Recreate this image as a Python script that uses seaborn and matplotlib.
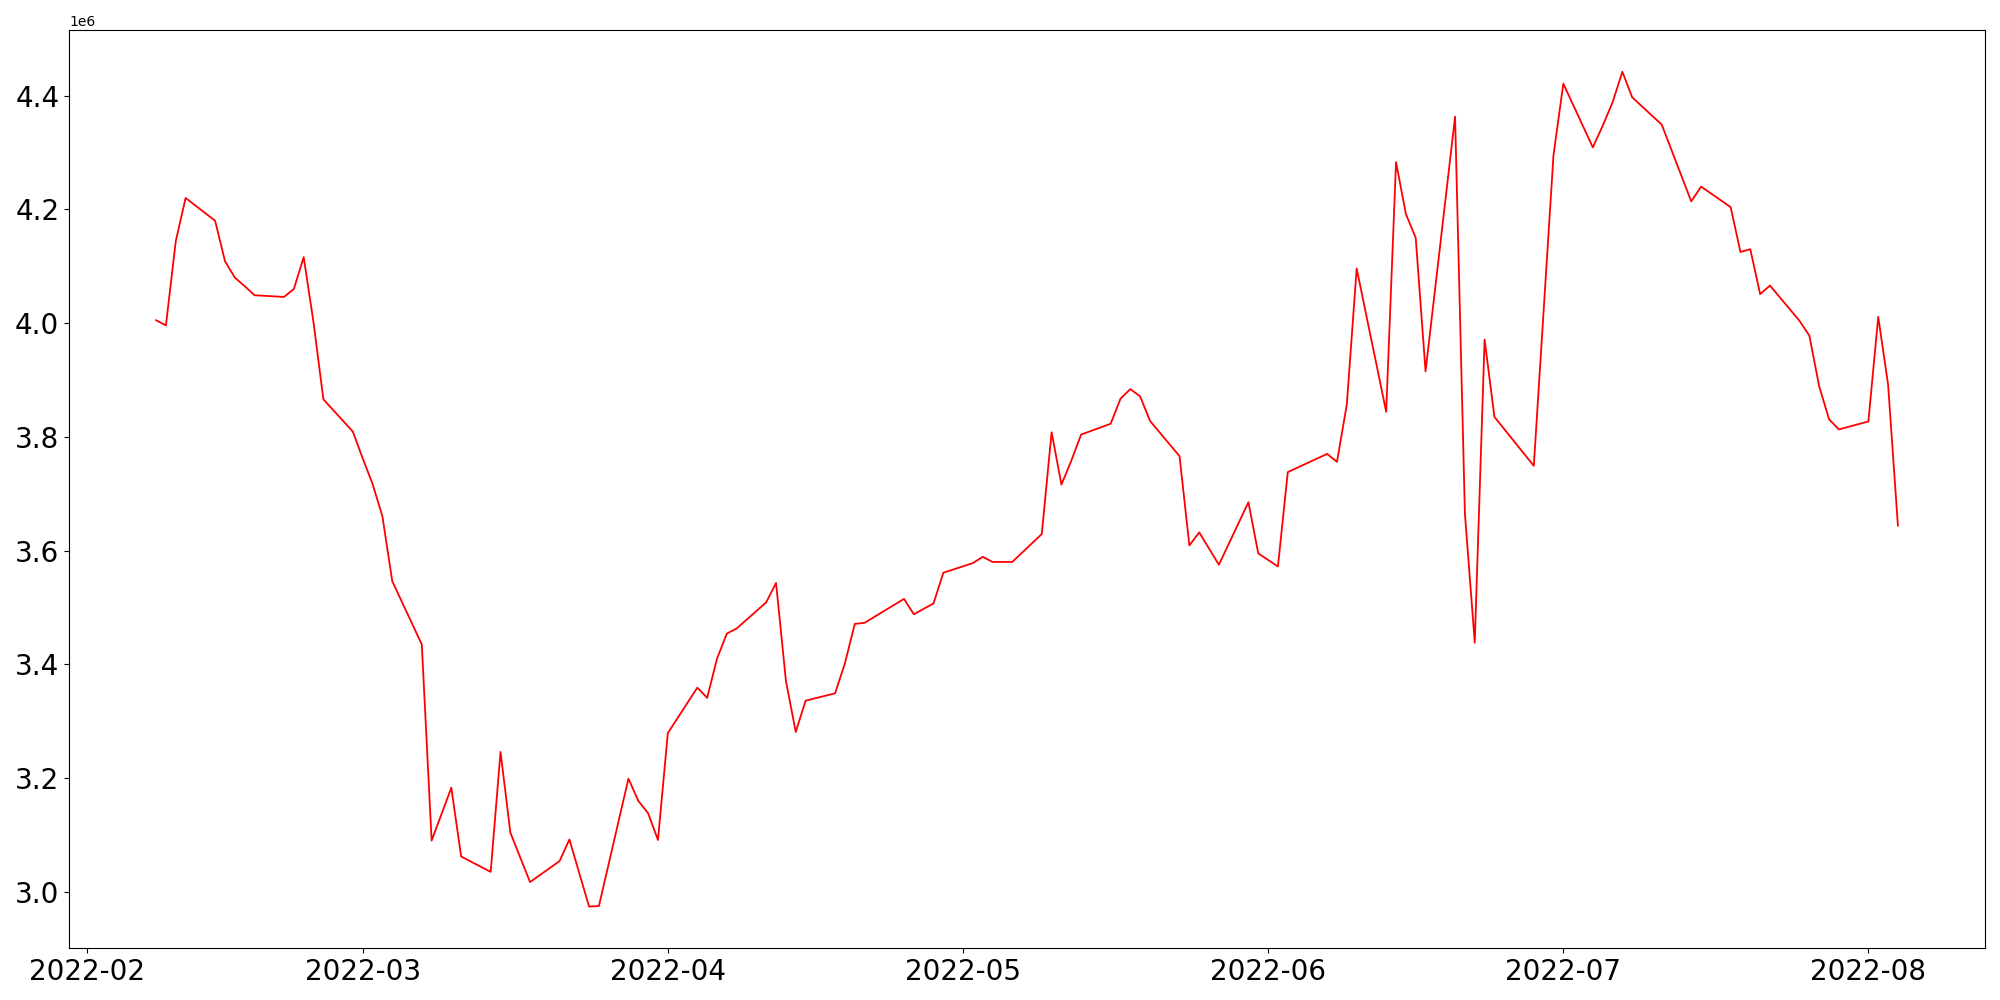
import matplotlib
matplotlib.use("Agg")
import matplotlib.pyplot as plt
import seaborn as sns
import pandas as pd

dates = [
    "2022-02-08", "2022-02-09", "2022-02-10", "2022-02-11", "2022-02-14", "2022-02-15",
    "2022-02-16", "2022-02-17", "2022-02-18", "2022-02-21", "2022-02-22", "2022-02-23",
    "2022-02-24", "2022-02-25", "2022-02-28", "2022-03-01", "2022-03-02", "2022-03-03",
    "2022-03-04", "2022-03-07", "2022-03-08", "2022-03-10", "2022-03-11", "2022-03-14",
    "2022-03-15", "2022-03-16", "2022-03-18", "2022-03-21", "2022-03-22", "2022-03-24",
    "2022-03-25", "2022-03-28", "2022-03-29", "2022-03-30", "2022-03-31", "2022-04-01",
    "2022-04-04", "2022-04-05", "2022-04-06", "2022-04-07", "2022-04-08", "2022-04-11",
    "2022-04-12", "2022-04-13", "2022-04-14", "2022-04-15", "2022-04-18", "2022-04-19",
    "2022-04-20", "2022-04-21", "2022-04-25", "2022-04-26", "2022-04-28", "2022-04-29",
    "2022-05-02", "2022-05-03", "2022-05-04", "2022-05-06", "2022-05-09", "2022-05-10",
    "2022-05-11", "2022-05-12", "2022-05-13", "2022-05-16", "2022-05-17", "2022-05-18",
    "2022-05-19", "2022-05-20", "2022-05-23", "2022-05-24", "2022-05-25", "2022-05-27",
    "2022-05-30", "2022-05-31", "2022-06-02", "2022-06-03", "2022-06-07", "2022-06-08",
    "2022-06-09", "2022-06-10", "2022-06-13", "2022-06-14", "2022-06-15", "2022-06-16",
    "2022-06-17", "2022-06-20", "2022-06-21", "2022-06-22", "2022-06-23", "2022-06-24",
    "2022-06-28", "2022-06-30", "2022-07-01", "2022-07-04", "2022-07-05", "2022-07-06",
    "2022-07-07", "2022-07-08", "2022-07-11", "2022-07-14", "2022-07-15", "2022-07-18",
    "2022-07-19", "2022-07-20", "2022-07-21", "2022-07-22", "2022-07-25", "2022-07-26",
    "2022-07-27", "2022-07-28", "2022-07-29", "2022-08-01", "2022-08-02", "2022-08-03",
    "2022-08-04",
]

values_millions = [
    4.005, 3.996, 4.144, 4.220, 4.180, 4.109,
    4.080, 4.065, 4.049, 4.046, 4.060, 4.116,
    4.001, 3.866, 3.809, 3.762, 3.717, 3.660,
    3.546, 3.435, 3.090, 3.183, 3.062, 3.035,
    3.246, 3.104, 3.017, 3.054, 3.092, 2.974,
    2.975, 3.199, 3.160, 3.138, 3.091, 3.279,
    3.359, 3.341, 3.410, 3.454, 3.463, 3.509,
    3.543, 3.371, 3.281, 3.336, 3.349, 3.402,
    3.471, 3.473, 3.515, 3.488, 3.507, 3.561,
    3.578, 3.589, 3.580, 3.580, 3.629, 3.808,
    3.716, 3.758, 3.804, 3.823, 3.867, 3.884,
    3.871, 3.828, 3.766, 3.609, 3.632, 3.575,
    3.685, 3.595, 3.572, 3.738, 3.770, 3.756,
    3.857, 4.096, 3.844, 4.283, 4.192, 4.150,
    3.915, 4.363, 3.665, 3.438, 3.971, 3.835,
    3.749, 4.295, 4.421, 4.309, 4.347, 4.388,
    4.442, 4.397, 4.349, 4.214, 4.240, 4.204,
    4.125, 4.130, 4.051, 4.066, 4.004, 3.978,
    3.889, 3.831, 3.813, 3.827, 4.011, 3.892,
    3.644,
]

df = pd.DataFrame({
    "date": pd.to_datetime(dates),
    "value": [v * 1e6 for v in values_millions],
})

fig, ax = plt.subplots(figsize=(20, 10), dpi=100)
sns.lineplot(data=df, x="date", y="value", color="red", linewidth=1.3, ax=ax)
ax.set_xlabel("")
ax.set_ylabel("")
ax.tick_params(axis="both", labelsize=20)
fig.subplots_adjust(left=0.0345, right=0.9925, bottom=0.0517, top=0.97)
fig.savefig("out.png", dpi=100)
